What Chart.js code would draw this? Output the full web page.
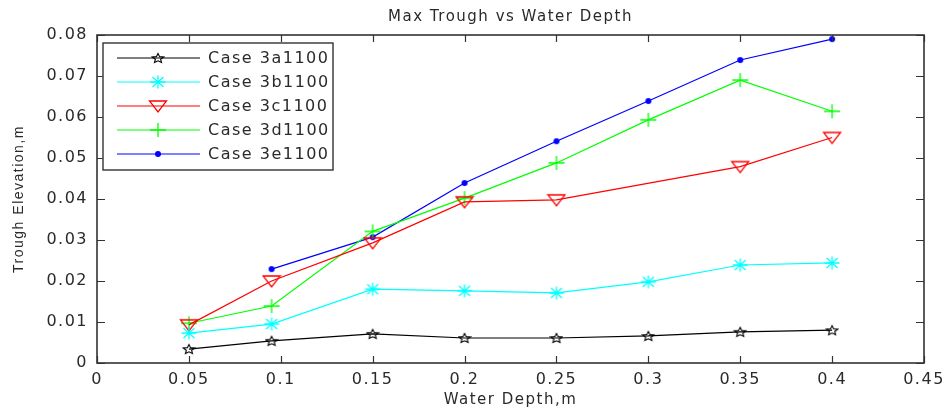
<!DOCTYPE html>
<html>
<head>
<meta charset="utf-8">
<title>Max Trough vs Water Depth</title>
<script src="https://cdn.jsdelivr.net/npm/chart.js@4.4.1/dist/chart.umd.min.js"></script>
<style>
  html, body { margin: 0; padding: 0; background: #fff; }
</style>
</head>
<body>
<canvas id="troughChart" width="948" height="416"></canvas>
<script>
// values
var waterDepth = [0.05, 0.095, 0.15, 0.2, 0.25, 0.3, 0.35, 0.4];
var case3a = [0.0034, 0.0054, 0.0071, 0.0061, 0.0061, 0.0066, 0.0076, 0.0080];
var case3b = [0.0073, 0.0095, 0.0180, 0.0176, 0.0171, 0.0198, 0.0239, 0.0244];
var case3c = [0.0093, 0.0200, 0.0293, 0.0393, 0.0398, null, 0.0479, 0.0550];
var case3d = [0.0097, 0.0139, 0.0321, 0.0402, 0.0488, 0.0593, 0.0690, 0.0614];
var case3e = [null, 0.0229, 0.0307, 0.0439, 0.0541, 0.0639, 0.0739, 0.0790];
var seriesNames = ['Case 3a1100', 'Case 3b1100', 'Case 3c1100', 'Case 3d1100', 'Case 3e1100'];

var textColor = '#2a2a2a';
var axisColor = '#333';

// small canvases used as point markers (matlab style)
function makeMarker(w, h, paint) {
    var c = document.createElement('canvas');
    c.width = w;
    c.height = h;
    var g = c.getContext('2d');
    paint(g, w / 2, h / 2);
    return c;
}

var starMarker = makeMarker(14, 12, function (g, cx, cy) {
    g.strokeStyle = '#000';
    g.lineWidth = 1.1;
    g.beginPath();
    for (var i = 0; i < 10; i++) {
        var r = (i % 2 === 0) ? 5 : 2.3;
        var ang = -Math.PI / 2 + i * Math.PI / 5;
        var px = cx + r * 1.2 * Math.cos(ang);
        var py = cy + 0.5 + r * Math.sin(ang);
        if (i === 0) g.moveTo(px, py); else g.lineTo(px, py);
    }
    g.closePath();
    g.stroke();
});

var asteriskMarker = makeMarker(18, 16, function (g, cx, cy) {
    g.strokeStyle = '#00ffff';
    g.lineWidth = 1.3;
    g.beginPath();
    g.moveTo(cx - 7.5, cy); g.lineTo(cx + 7.5, cy);
    g.moveTo(cx, cy - 6.5); g.lineTo(cx, cy + 6.5);
    g.moveTo(cx - 5.5, cy - 5); g.lineTo(cx + 5.5, cy + 5);
    g.moveTo(cx - 5.5, cy + 5); g.lineTo(cx + 5.5, cy - 5);
    g.stroke();
});

var triangleMarker = makeMarker(20, 16, function (g, cx, cy) {
    g.strokeStyle = '#ff0000';
    g.lineWidth = 1.3;
    g.beginPath();
    g.moveTo(cx - 8.5, cy - 5);
    g.lineTo(cx + 8.5, cy - 5);
    g.lineTo(cx, cy + 6);
    g.closePath();
    g.stroke();
});

var plusMarker = makeMarker(18, 16, function (g, cx, cy) {
    g.strokeStyle = '#00ff00';
    g.lineWidth = 1.3;
    g.beginPath();
    g.moveTo(cx - 8, cy); g.lineTo(cx + 8, cy);
    g.moveTo(cx, cy - 7); g.lineTo(cx, cy + 7);
    g.stroke();
});

var dotMarker = makeMarker(8, 8, function (g, cx, cy) {
    g.fillStyle = '#0000ff';
    g.beginPath();
    g.arc(cx, cy, 3, 0, Math.PI * 2);
    g.fill();
});

function toPoints(values) {
    return waterDepth.map(function (x, i) {
        return { x: x, y: values[i] };
    });
}

function makeSeries(label, values, color, marker) {
    return {
        label: label,
        data: toPoints(values),
        borderColor: color,
        backgroundColor: color,
        borderWidth: 1.2,
        pointStyle: marker,
        pointRadius: 6,
        pointHoverRadius: 6,
        spanGaps: true,
        tension: 0
    };
}

// draws the boxed axes with inward ticks, and the legend inside the plot
var matlabFrame = {
    id: 'matlabFrame',
    beforeDraw: function (chart) {
        chart.ctx.letterSpacing = '1.5px';
    },
    afterDraw: function (chart) {
        var ctx = chart.ctx;
        var a = chart.chartArea;
        var xs = chart.scales.x;
        var ys = chart.scales.y;
        ctx.save();
        ctx.strokeStyle = axisColor;
        ctx.lineWidth = 1.2;
        ctx.beginPath();
        xs.ticks.forEach(function (t) {
            var px = Math.round(xs.getPixelForValue(t.value)) + 0.5;
            ctx.moveTo(px, a.bottom); ctx.lineTo(px, a.bottom - 7);
            ctx.moveTo(px, a.top); ctx.lineTo(px, a.top + 7);
        });
        ys.ticks.forEach(function (t) {
            var py = Math.round(ys.getPixelForValue(t.value)) + 0.5;
            ctx.moveTo(a.left, py); ctx.lineTo(a.left + 8, py);
            ctx.moveTo(a.right, py); ctx.lineTo(a.right - 8, py);
        });
        ctx.stroke();
        ctx.lineWidth = 1.6;
        ctx.strokeRect(a.left, a.top, a.right - a.left, a.bottom - a.top);

        // legend
        var lx = a.left + 6, ly = a.top + 8, lw = 230, lh = 127;
        ctx.fillStyle = '#fff';
        ctx.fillRect(lx, ly, lw, lh);
        ctx.lineWidth = 1.4;
        ctx.strokeStyle = axisColor;
        ctx.strokeRect(lx, ly, lw, lh);
        ctx.font = '16px "DejaVu Sans"';
        ctx.textBaseline = 'middle';
        ctx.textAlign = 'left';
        chart.data.datasets.forEach(function (ds, i) {
            var ry = ly + 15 + i * 24;
            ctx.strokeStyle = ds.borderColor;
            ctx.lineWidth = 1.2;
            ctx.beginPath();
            ctx.moveTo(lx + 14, ry);
            ctx.lineTo(lx + 97, ry);
            ctx.stroke();
            var m = ds.pointStyle;
            ctx.drawImage(m, lx + 55 - m.width / 2, ry - m.height / 2);
            ctx.fillStyle = textColor;
            ctx.fillText(ds.label, lx + 105, ry + 1);
        });
        ctx.restore();
    }
};

document.addEventListener('DOMContentLoaded', function () {
    var ctx = document.getElementById('troughChart').getContext('2d');
    var troughChart = new Chart(ctx, {
        type: 'line',
        data: {
            datasets: [
                makeSeries(seriesNames[0], case3a, '#000000', starMarker),
                makeSeries(seriesNames[1], case3b, '#00ffff', asteriskMarker),
                makeSeries(seriesNames[2], case3c, '#ff0000', triangleMarker),
                makeSeries(seriesNames[3], case3d, '#00ff00', plusMarker),
                makeSeries(seriesNames[4], case3e, '#0000ff', dotMarker)
            ]
        },
        options: {
            responsive: false,
            animation: false,
            layout: { padding: { left: 0, right: 24, top: 0, bottom: 0 } },
            plugins: {
                legend: { display: false },
                tooltip: { enabled: false },
                title: {
                    display: true,
                    text: 'Max Trough vs Water Depth',
                    fullSize: false,
                    color: textColor,
                    font: { family: 'DejaVu Sans', size: 15, weight: 'normal' },
                    padding: { top: 8, bottom: 9 }
                }
            },
            scales: {
                x: {
                    type: 'linear',
                    min: 0,
                    max: 0.45,
                    grid: { display: false, drawTicks: false },
                    border: { display: false },
                    ticks: {
                        stepSize: 0.05,
                        padding: 7,
                        color: textColor,
                        maxRotation: 0,
                        autoSkip: false,
                        font: { family: 'DejaVu Sans', size: 16 },
                        callback: function (v) { return String(Number(v.toFixed(2))); }
                    },
                    title: {
                        display: true,
                        text: 'Water Depth,m',
                        color: textColor,
                        font: { family: 'DejaVu Sans', size: 15 },
                        padding: { top: 0, bottom: 7 }
                    },
                    afterFit: function (s) {
                        s.height = 53;
                        s.paddingLeft = 0;
                        s.paddingRight = 0;
                    }
                },
                y: {
                    min: 0,
                    max: 0.08,
                    grid: { display: false, drawTicks: false },
                    border: { display: false },
                    ticks: {
                        stepSize: 0.01,
                        padding: 9,
                        color: textColor,
                        font: { family: 'DejaVu Sans', size: 16 },
                        callback: function (v) { return String(Number(v.toFixed(2))); }
                    },
                    title: {
                        display: true,
                        text: 'Trough Elevation,m',
                        color: textColor,
                        font: { family: 'Liberation Sans', size: 14 },
                        padding: { top: 11, bottom: 0 }
                    },
                    afterFit: function (s) {
                        s.width = 97;
                        s.paddingTop = 0;
                        s.paddingBottom = 0;
                    }
                }
            }
        },
        plugins: [matlabFrame]
    });
});
</script>
</body>
</html>
